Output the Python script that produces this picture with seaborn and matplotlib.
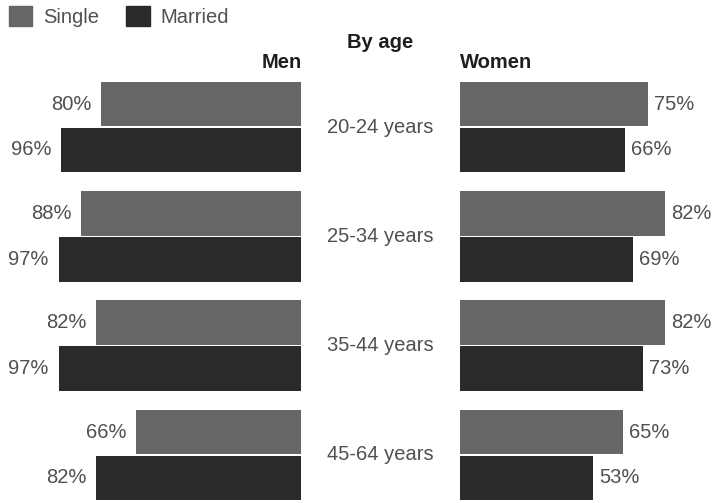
import matplotlib
matplotlib.use("Agg")
import matplotlib.pyplot as plt
import matplotlib.transforms as mtrans
import seaborn as sns
import pandas as pd

ages = ["20-24 years", "25-34 years", "35-44 years", "45-64 years"]
statuses = ["Single", "Married"]
men_single = [80, 88, 82, 66]
men_married = [96, 97, 97, 82]
women_single = [75, 82, 82, 65]
women_married = [66, 69, 73, 53]

sns.set_theme(style="white")
plt.rcParams["font.family"] = ["Liberation Sans", "DejaVu Sans"]

W, H = 714, 503
fig = plt.figure(figsize=(W / 100, H / 100), dpi=100)

palette = {"Single": "#666666", "Married": "#2a2a2a"}
label_color = "#505050"
title_color = "#1e1e1e"
fs = 14.5


def long_df(single, married):
    rows = []
    for a, s, m in zip(ages, single, married):
        rows.append({"age": a, "status": "Single", "value": s})
        rows.append({"age": a, "status": "Married", "value": m})
    return pd.DataFrame(rows)


def px_axes(x0, x1, y0, y1):
    return fig.add_axes([x0 / W, 1 - y1 / H, (x1 - x0) / W, (y1 - y0) / H])


y_top, y_bot = 80, 502
ax_m = px_axes(51, 301, y_top, y_bot)
ax_w = px_axes(460, 710, y_top, y_bot)

for ax, single, married, side in [
    (ax_m, men_single, men_married, "left"),
    (ax_w, women_single, women_married, "right"),
]:
    df = long_df(single, married)
    sns.barplot(data=df, x="value", y="age", hue="status", hue_order=statuses,
                order=ages, palette=palette, orient="h", width=0.84, gap=0.03,
                legend=False, ax=ax, edgecolor="none", saturation=1)
    ax.set_ylim(3.43, -0.43)
    if side == "left":
        ax.set_xlim(100, 0)
    else:
        ax.set_xlim(0, 100)
    ax.axis("off")
    for cont in ax.containers:
        for bar in cont:
            val = bar.get_width()
            yc = bar.get_y() + bar.get_height() / 2
            if side == "left":
                ax.annotate(f"{val:.0f}%", (val, yc), xytext=(-7, 0),
                            textcoords="offset points", ha="right", va="center",
                            fontsize=fs, color=label_color)
            else:
                ax.annotate(f"{val:.0f}%", (val, yc), xytext=(4.5, 0),
                            textcoords="offset points", ha="left", va="center",
                            fontsize=fs, color=label_color)

# age labels in the middle
trans = mtrans.blended_transform_factory(fig.transFigure, ax_m.transData)
for i, a in enumerate(ages):
    ax_m.text(380 / W, i, a, transform=trans, ha="center", va="center",
              fontsize=fs, color=label_color, clip_on=False)

# titles
fig.text(302 / W, 1 - 62 / H, "Men", ha="right", va="center", fontsize=fs,
         fontweight="bold", color=title_color)
fig.text(460 / W, 1 - 62 / H, "Women", ha="left", va="center", fontsize=fs,
         fontweight="bold", color=title_color)
fig.text(380 / W, 1 - 42 / H, "By age", ha="center", va="center", fontsize=fs,
         fontweight="bold", color=title_color)

# legend
handles = [plt.Rectangle((0, 0), 1, 1, color=palette[s]) for s in statuses]
fig.legend(handles, statuses, loc="upper left", bbox_to_anchor=(9 / W, 1 - 6 / H),
           ncol=2, frameon=False, fontsize=fs, handlelength=1.15, handleheight=1.15,
           handletextpad=0.55, columnspacing=1.35, labelcolor=label_color,
           borderaxespad=0, borderpad=0)

fig.savefig("out.png", dpi=100)
